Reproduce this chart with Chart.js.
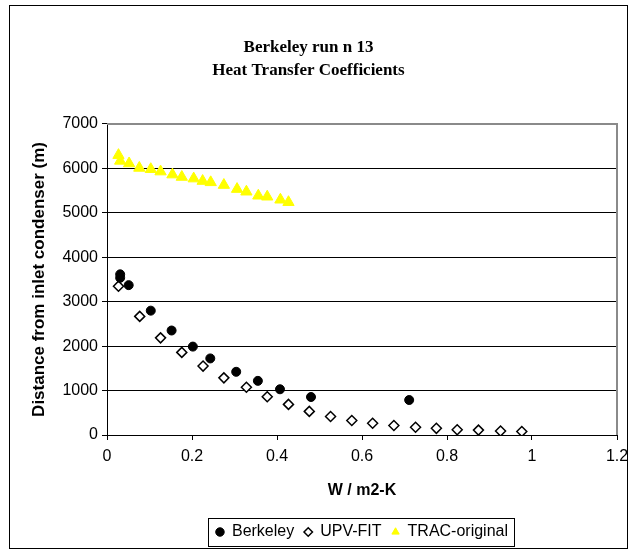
<!DOCTYPE html>
<html>
<head>
<meta charset="utf-8">
<title>Berkeley run n 13</title>
<script src="https://cdn.jsdelivr.net/npm/chart.js@4.4.1/dist/chart.umd.min.js"></script>
<style>
  html, body { margin: 0; padding: 0; background: #fff; }
  #wrap { position: relative; width: 629px; height: 552px; }
  #frame { position: absolute; left: 9px; top: 5px; width: 617px; height: 542px; border: 1px solid #000; }
  #chart { position: absolute; left: 0; top: 0; }
</style>
</head>
<body>
<div id="wrap">
  <div id="frame"></div>
  <canvas id="chart" width="629" height="552"></canvas>
</div>
<script>
// --- Data ---
const berkeleyX = [0.031, 0.031, 0.051, 0.103, 0.152, 0.202, 0.243, 0.304, 0.355, 0.407, 0.480, 0.711];
const berkeleyY = [3615, 3537, 3372, 2798, 2351, 1989, 1723, 1422, 1218, 1029, 855, 787];

const upvX = [0.027, 0.077, 0.126, 0.176, 0.226, 0.275, 0.328, 0.377, 0.427, 0.476,
              0.526, 0.576, 0.625, 0.675, 0.726, 0.775, 0.824, 0.874, 0.926, 0.976];
const upvY = [3349, 2669, 2186, 1859, 1551, 1286, 1075, 862, 689, 531,
              417, 327, 265, 213, 175, 150, 118, 110, 88, 80];

const tracX = [0.027, 0.031, 0.052, 0.076, 0.103, 0.126, 0.154, 0.176, 0.204, 0.225,
               0.244, 0.275, 0.306, 0.328, 0.356, 0.377, 0.408, 0.427];
const tracY = [6297, 6168, 6109, 6009, 5980, 5927, 5859, 5805, 5769, 5714,
               5685, 5624, 5533, 5474, 5383, 5361, 5293, 5238];

const xTickLabels = ['0', '0.2', '0.4', '0.6', '0.8', '1', '1.2'];
const yTickLabels = ['0', '1000', '2000', '3000', '4000', '5000', '6000', '7000'];

const seriesNames = ['Berkeley', 'UPV-FIT', 'TRAC-original'];
const chartTitle = ['Berkeley run n 13', 'Heat Transfer Coefficients'];
const xAxisTitle = 'W / m2-K';
const yAxisTitle = 'Distance from inlet condenser (m)';

function toPoints(xs, ys) {
    return xs.map((x, i) => ({ x: x, y: ys[i] }));
}

const sansFont = "'Liberation Sans', Arial, sans-serif";

// gray frame on top / right side of the plot area (Excel style)
const plotFrame = {
    id: 'plotFrame',
    beforeDatasetsDraw(chart) {
        const { ctx, chartArea: a } = chart;
        ctx.save();
        ctx.strokeStyle = '#8a8a8a';
        ctx.lineWidth = 2;
        ctx.beginPath();
        ctx.moveTo(a.left, a.top);
        ctx.lineTo(a.right, a.top);
        ctx.lineTo(a.right, a.bottom);
        ctx.stroke();
        ctx.restore();
    }
};

// box around the legend items
const legendBox = {
    id: 'legendBox',
    afterDraw(chart) {
        const boxes = chart.legend && chart.legend.legendHitBoxes;
        if (!boxes || !boxes.length) return;
        let l = Infinity, r = -Infinity, t = Infinity, b = -Infinity;
        boxes.forEach(h => {
            l = Math.min(l, h.left); r = Math.max(r, h.left + h.width);
            t = Math.min(t, h.top); b = Math.max(b, h.top + h.height);
        });
        const ctx = chart.ctx;
        ctx.save();
        ctx.strokeStyle = '#000';
        ctx.lineWidth = 1;
        ctx.strokeRect(Math.round(l - 8) + 0.5, Math.round(t - 6) + 0.5, Math.round(r - l + 14), Math.round(b - t + 12));
        ctx.restore();
    }
};

const ctx = document.getElementById('chart').getContext('2d');
new Chart(ctx, {
    type: 'scatter',
    data: {
        datasets: [
            {
                label: seriesNames[0],
                data: toPoints(berkeleyX, berkeleyY),
                pointStyle: 'circle',
                pointRadius: 4.5,
                backgroundColor: '#000',
                borderColor: '#000',
                borderWidth: 1
            },
            {
                label: seriesNames[1],
                data: toPoints(upvX, upvY),
                pointStyle: 'rectRot',
                pointRadius: 5,
                backgroundColor: '#fff',
                borderColor: '#000',
                borderWidth: 1.5
            },
            {
                label: seriesNames[2],
                data: toPoints(tracX, tracY),
                pointStyle: 'triangle',
                pointRadius: 6.5,
                backgroundColor: '#ffff00',
                borderColor: '#ffff00',
                borderWidth: 1
            }
        ]
    },
    options: {
        responsive: false,
        animation: false,
        layout: { padding: { left: 0, right: 12, top: 0, bottom: 2 } },
        plugins: {
            title: {
                display: true,
                text: chartTitle,
                color: '#000',
                font: { family: "'Liberation Serif', 'Times New Roman', serif", size: 17, weight: 'bold', lineHeight: 1.35 },
                padding: { top: 36, bottom: 42 }
            },
            legend: {
                position: 'bottom',
                fullSize: false,
                labels: {
                    usePointStyle: true,
                    boxWidth: 8,
                    boxHeight: 6,
                    padding: 10,
                    color: '#000',
                    font: { family: sansFont, size: 16 }
                }
            },
            tooltip: { enabled: false }
        },
        scales: {
            x: {
                type: 'linear',
                min: 0,
                max: 1.2,
                ticks: {
                    stepSize: 0.2,
                    color: '#000',
                    padding: 7,
                    font: { family: sansFont, size: 16 },
                    callback: (v, i) => xTickLabels[i]
                },
                grid: { drawOnChartArea: false, color: '#000', tickLength: 5 },
                border: { color: '#000', width: 1 },
                title: {
                    display: true,
                    text: xAxisTitle,
                    color: '#000',
                    font: { family: sansFont, size: 16, weight: 'bold' },
                    padding: { top: 0, bottom: 14 }
                },
                afterFit: s => { s.height = 79; s.paddingRight = 0; s.paddingLeft = 0; }
            },
            y: {
                min: 0,
                max: 7000,
                ticks: {
                    stepSize: 1000,
                    color: '#000',
                    padding: 4,
                    font: { family: sansFont, size: 16 },
                    callback: (v, i) => yTickLabels[i]
                },
                grid: { color: '#000', tickLength: 5 },
                border: { color: '#000', width: 1 },
                title: {
                    display: true,
                    text: yAxisTitle,
                    color: '#000',
                    font: { family: sansFont, size: 17, weight: 'bold' },
                    padding: { top: 29, bottom: 0 }
                },
                afterFit: s => { s.width = 107; }
            }
        }
    },
    plugins: [plotFrame, legendBox]
});
</script>
</body>
</html>
